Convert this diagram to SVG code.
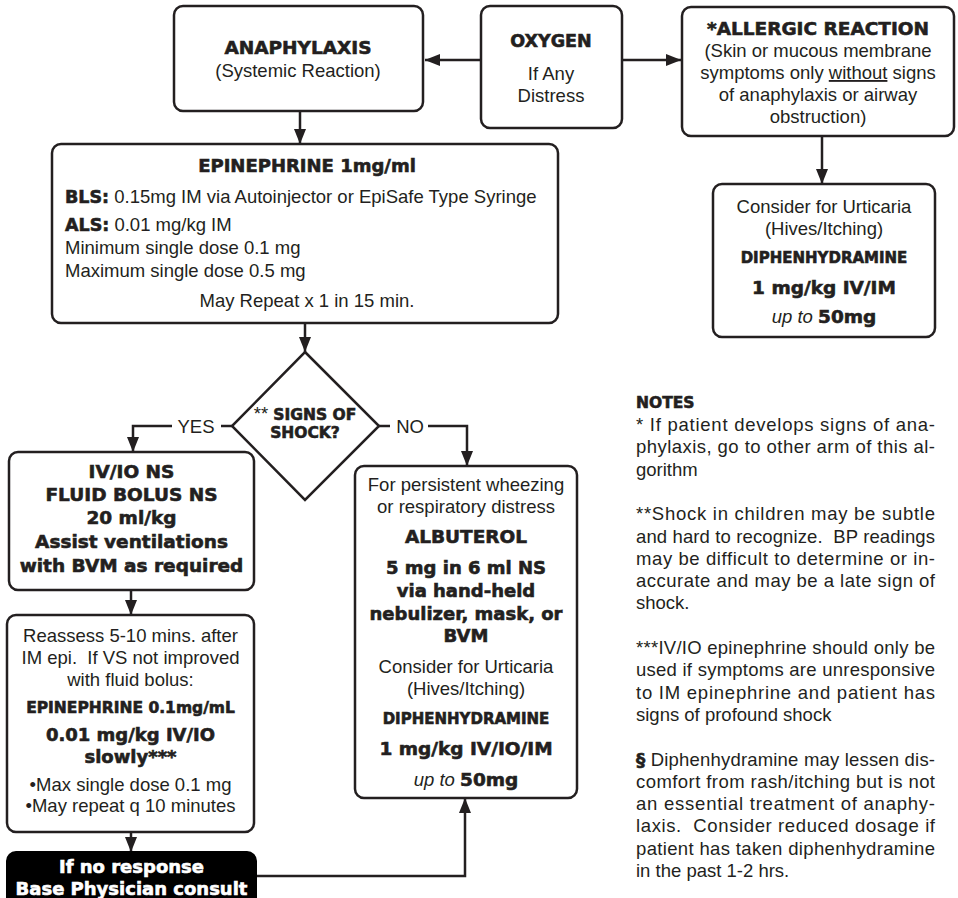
<svg xmlns="http://www.w3.org/2000/svg" width="958" height="898" viewBox="0 0 958 898">
<defs>
<style>
.box{fill:#fff;stroke:#231f20;stroke-width:2.5}
.r{font-family:"Liberation Sans",Arial,sans-serif;font-size:18.5px;fill:#231f20}
.b{font-family:"DejaVu Sans",sans-serif;font-weight:bold;fill:#231f20;stroke:#231f20;stroke-width:0.6}
.c{text-anchor:middle}
.ln{fill:none;stroke:#231f20;stroke-width:2.5}
.w{fill:#fff;stroke:#fff}
</style>
<marker id="ah" markerUnits="userSpaceOnUse" markerWidth="14" markerHeight="15" refX="15" refY="7.5" orient="auto">
<path d="M0,1.5 L15,7.5 L0,13.5 Z" fill="#231f20"/>
</marker>
</defs>
<rect width="958" height="898" fill="#fff"/>

<g id="connectors">
<path class="ln" d="M481,60 H425" marker-end="url(#ah)"/>
<path class="ln" d="M622,60 H681" marker-end="url(#ah)"/>
<path class="ln" d="M300,111 V144" marker-end="url(#ah)"/>
<path class="ln" d="M822,136 V184" marker-end="url(#ah)"/>
<path class="ln" d="M305,323 V352" marker-end="url(#ah)"/>
<path class="ln" d="M232,426 H221"/>
<path class="ln" d="M172,426 H133 V452" marker-end="url(#ah)"/>
<path class="ln" d="M379,426 H390"/>
<path class="ln" d="M428,426 H467 V466" marker-end="url(#ah)"/>
<path class="ln" d="M131,590 V615" marker-end="url(#ah)"/>
<path class="ln" d="M131,832 V852" marker-end="url(#ah)"/>
<path class="ln" d="M256,876 H465 V798" marker-end="url(#ah)"/>
<text class="r" x="196" y="433" text-anchor="middle">YES</text>
<text class="r" x="410" y="433" text-anchor="middle">NO</text>
</g>

<g id="anaphylaxis">
<rect class="box" x="174" y="6" width="249" height="105" rx="9"/>
<text class="b c" x="298" y="54" font-size="18.5">ANAPHYLAXIS</text>
<text class="r c" x="298" y="77">(Systemic Reaction)</text>
</g>

<g id="oxygen">
<rect class="box" x="481" y="6" width="141" height="122" rx="9"/>
<text class="b c" x="551" y="47" font-size="17.5">OXYGEN</text>
<text class="r c" x="551" y="80">If Any</text>
<text class="r c" x="551" y="102">Distress</text>
</g>

<g id="allergic">
<rect class="box" x="682" y="7" width="272" height="129" rx="9"/>
<text class="b c" x="818" y="35" font-size="18.5">*ALLERGIC REACTION</text>
<text class="r c" x="818" y="57">(Skin or mucous membrane</text>
<text class="r c" x="818" y="79">symptoms only <tspan text-decoration="underline">without</tspan> signs</text>
<text class="r c" x="818" y="101">of anaphylaxis or airway</text>
<text class="r c" x="818" y="123">obstruction)</text>
</g>

<g id="diphen-right">
<rect class="box" x="713" y="184" width="222" height="153" rx="9"/>
<text class="r c" x="824" y="213">Consider for Urticaria</text>
<text class="r c" x="824" y="235">(Hives/Itching)</text>
<text class="b c" x="824" y="263" font-size="15">DIPHENHYDRAMINE</text>
<text class="b c" x="824" y="294" font-size="18.5">1 mg/kg IV/IM</text>
<text class="r c" x="824" y="323"><tspan font-style="italic">up to</tspan> <tspan class="b" font-size="18.5">50mg</tspan></text>
</g>

<g id="epinephrine">
<rect class="box" x="52" y="144" width="506" height="179" rx="9"/>
<text class="b c" x="307" y="172" font-size="18">EPINEPHRINE 1mg/ml</text>
<text class="r" x="65" y="203"><tspan class="b" font-size="17.5">BLS:</tspan> 0.15mg IM via Autoinjector or EpiSafe Type Syringe</text>
<text class="r" x="65" y="231"><tspan class="b" font-size="17.5">ALS:</tspan> 0.01 mg/kg IM</text>
<text class="r" x="65" y="254">Minimum single dose 0.1 mg</text>
<text class="r" x="65" y="277">Maximum single dose 0.5 mg</text>
<text class="r c" x="307" y="307">May Repeat x 1 in 15 min.</text>
</g>

<g id="shock-decision">
<polygon class="box" points="305,352 379,426 305,500 232,426"/>
<text class="r c" x="305" y="420" font-size="15.5">** <tspan class="b" font-size="15.5">SIGNS OF</tspan></text>
<text class="b c" x="305" y="438" font-size="15.5">SHOCK?</text>
</g>

<g id="fluid-bolus">
<rect class="box" x="9" y="452" width="245" height="138" rx="9"/>
<text class="b c" x="131.5" y="478" font-size="18.5">IV/IO NS</text>
<text class="b c" x="131.5" y="501" font-size="18.5">FLUID BOLUS NS</text>
<text class="b c" x="131.5" y="524" font-size="18.5">20 ml/kg</text>
<text class="b c" x="131.5" y="548" font-size="18.5">Assist ventilations</text>
<text class="b c" x="131.5" y="572" font-size="18.5">with BVM as required</text>
</g>

<g id="reassess">
<rect class="box" x="7" y="615" width="247" height="217" rx="9"/>
<text class="r c" x="130.5" y="642">Reassess 5-10 mins. after</text>
<text class="r c" x="130.5" y="664" xml:space="preserve">IM epi.  If VS not improved</text>
<text class="r c" x="130.5" y="686">with fluid bolus:</text>
<text class="b c" x="130.5" y="713" font-size="15.5">EPINEPHRINE 0.1mg/mL</text>
<text class="b c" x="130.5" y="741" font-size="18">0.01 mg/kg IV/IO</text>
<text class="b c" x="130.5" y="763" font-size="18">slowly***</text>
<text class="r c" x="130.5" y="791">•Max single dose 0.1 mg</text>
<text class="r c" x="130.5" y="812">•May repeat q 10 minutes</text>
</g>

<g id="base-consult">
<rect x="7" y="852" width="249" height="60" rx="9" fill="#000" stroke="#000" stroke-width="2"/>
<text class="b c w" x="131.5" y="873" font-size="18" stroke-width="0.5">If no response</text>
<text class="b c w" x="131.5" y="895" font-size="18" stroke-width="0.5">Base Physician consult</text>
</g>

<g id="albuterol">
<rect class="box" x="355" y="466" width="222" height="332" rx="9"/>
<text class="r c" x="466" y="491">For persistent wheezing</text>
<text class="r c" x="466" y="513">or respiratory distress</text>
<text class="b c" x="466" y="543" font-size="18.5">ALBUTEROL</text>
<text class="b c" x="466" y="574" font-size="18">5 mg in 6 ml NS</text>
<text class="b c" x="466" y="597" font-size="18">via hand-held</text>
<text class="b c" x="466" y="620" font-size="18">nebulizer, mask, or</text>
<text class="b c" x="466" y="642" font-size="18">BVM</text>
<text class="r c" x="466" y="673">Consider for Urticaria</text>
<text class="r c" x="466" y="695">(Hives/Itching)</text>
<text class="b c" x="466" y="724" font-size="15">DIPHENHYDRAMINE</text>
<text class="b c" x="466" y="755" font-size="18.5">1 mg/kg IV/IO/IM</text>
<text class="r c" x="466" y="786"><tspan font-style="italic">up to</tspan> <tspan class="b" font-size="18.5">50mg</tspan></text>
</g>

<g id="notes">
<text class="b" x="636" y="408" font-size="15.5">NOTES</text>
<text class="r" x="636" y="431" textLength="299" lengthAdjust="spacing">* If patient develops signs of ana-</text>
<text class="r" x="636" y="453.3" textLength="299" lengthAdjust="spacing">phylaxis, go to other arm of this al-</text>
<text class="r" x="636" y="475.6">gorithm</text>
<text class="r" x="636" y="520.2" textLength="299" lengthAdjust="spacing">**Shock in children may be subtle</text>
<text class="r" x="636" y="542.5" textLength="299" lengthAdjust="spacing" xml:space="preserve">and hard to recognize.  BP readings</text>
<text class="r" x="636" y="564.8" textLength="299" lengthAdjust="spacing">may be difficult to determine or in-</text>
<text class="r" x="636" y="587.1" textLength="299" lengthAdjust="spacing">accurate and may be a late sign of</text>
<text class="r" x="636" y="609.4">shock.</text>
<text class="r" x="636" y="654" textLength="299" lengthAdjust="spacing">***IV/IO epinephrine should only be</text>
<text class="r" x="636" y="676.3" textLength="299" lengthAdjust="spacing">used if symptoms are unresponsive</text>
<text class="r" x="636" y="698.6" textLength="299" lengthAdjust="spacing">to IM epinephrine and patient has</text>
<text class="r" x="636" y="720.9">signs of profound shock</text>
<text class="r" x="636" y="765.5" textLength="299" lengthAdjust="spacing"><tspan class="b">§</tspan> Diphenhydramine may lessen dis-</text>
<text class="r" x="636" y="787.8" textLength="299" lengthAdjust="spacing">comfort from rash/itching but is not</text>
<text class="r" x="636" y="810.1" textLength="299" lengthAdjust="spacing">an essential treatment of anaphy-</text>
<text class="r" x="636" y="832.4" textLength="299" lengthAdjust="spacing" xml:space="preserve">laxis.  Consider reduced dosage if</text>
<text class="r" x="636" y="854.7" textLength="299" lengthAdjust="spacing">patient has taken diphenhydramine</text>
<text class="r" x="636" y="877">in the past 1-2 hrs.</text>
</g>
</svg>
